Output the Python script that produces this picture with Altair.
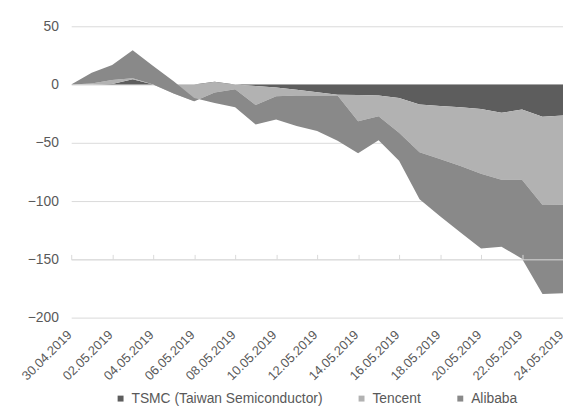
import altair as alt
import pandas as pd

dates = ["30.04.2019", "01.05.2019", "02.05.2019", "03.05.2019", "04.05.2019",
         "05.05.2019", "06.05.2019", "07.05.2019", "08.05.2019", "09.05.2019",
         "10.05.2019", "11.05.2019", "12.05.2019", "13.05.2019", "14.05.2019",
         "15.05.2019", "16.05.2019", "17.05.2019", "18.05.2019", "19.05.2019",
         "20.05.2019", "21.05.2019", "22.05.2019", "23.05.2019", "24.05.2019"]

tsmc = [0, 0, 0.5, 4.5, 0, 0, 0, 2.5, 0, -1.2, -2.5, -4.5, -6.5, -8.7, -9,
        -9.3, -11.6, -17.2, -18.4, -19.5, -20.9, -24.3, -21.5, -27.7, -26.6]
tencent = [0, 1, 3.5, 0.8, 0, -7.6, -14.4, -9.3, -4, -16.3, -7.5, -5, -3, -0.8,
           -22.4, -17.8, -29.7, -41, -45.4, -50.5, -55.7, -57.3, -60.3, -75.7, -76.6]
alibaba = [0, 9.2, 12.7, 24.1, 16, 10.4, 2.9, -9, -15.5, -16.7, -20, -26.1, -30.3,
           -38.8, -27.6, -20.6, -24, -40.3, -49.2, -57, -64.1, -57.6, -67.6, -76.3, -75.8]

series_names = ["TSMC (Taiwan Semiconductor)", "Tencent", "Alibaba"]
colors = ["#5d5d5d", "#b2b2b2", "#898989"]
y_ticks = [50, 0, -50, -100, -150, -200]
x_tick_idx = list(range(0, len(dates), 2))

# Excel-style stacked area: each series fills between the running totals
rows = []
for i, d in enumerate(dates):
    c1 = tsmc[i]
    c2 = c1 + tencent[i]
    c3 = c2 + alibaba[i]
    rows.append(dict(idx=i, date=d, series=series_names[0], lo=0, hi=c1))
    rows.append(dict(idx=i, date=d, series=series_names[1], lo=c1, hi=c2))
    rows.append(dict(idx=i, date=d, series=series_names[2], lo=c2, hi=c3))
df = pd.DataFrame(rows)

W, H = 498, 295
FONT = "Liberation Sans"
TXT = "#595959"
GRID = "#d9d9d9"

label_expr = "[" + ",".join("'%s'" % d for d in dates) + "][datum.value]"

xscale = alt.Scale(domain=[0, len(dates) - 1], nice=False, zero=False)
yscale = alt.Scale(domain=[-200, 50], nice=False, zero=False)

yaxis = alt.Axis(values=y_ticks, grid=True, gridColor=GRID, gridWidth=1,
                 domain=False, ticks=False, tickSize=0, labelPadding=13,
                 labelColor=TXT, labelFontSize=14, labelFont=FONT, title=None)

label_axis = alt.Axis(values=x_tick_idx, labelExpr=label_expr, labelAngle=-45,
                      labelAlign="right", labelBaseline="middle", domain=False,
                      ticks=False, tickSize=0, labelPadding=15, labelOffset=-2,
                      grid=False, labelColor=TXT, labelFontSize=13,
                      labelFont=FONT, labelOverlap=False, title=None)

zero_axis = alt.Axis(values=x_tick_idx, labels=False, domain=True,
                     domainColor=GRID, domainWidth=1, ticks=True, tickColor=GRID,
                     tickSize=5, tickWidth=1, grid=False, offset=-0.8 * H,
                     zindex=1, title=None)

color = alt.Color("series:N",
                  scale=alt.Scale(domain=series_names, range=colors),
                  legend=alt.Legend(orient="none", legendX=43, legendY=370,
                                    direction="horizontal", title=None,
                                    symbolType="square", symbolSize=36,
                                    symbolStrokeWidth=0, labelFontSize=14,
                                    labelColor=TXT, labelFont=FONT,
                                    labelLimit=500,
                                    columnPadding=32, labelOffset=4, padding=0))


def layer(name, xaxis):
    return alt.Chart(df).transform_filter(
        alt.datum.series == name
    ).mark_area(opacity=1).encode(
        x=alt.X("idx:Q", scale=xscale, axis=xaxis),
        y=alt.Y("lo:Q", scale=yscale, axis=yaxis),
        y2="hi:Q",
        color=color,
    )


chart = alt.layer(
    layer(series_names[0], label_axis),
    layer(series_names[1], None),
    layer(series_names[2], zero_axis),
).resolve_axis(x="independent").properties(
    width=W, height=H,
    padding={"left": 64, "top": 16, "right": 0, "bottom": 88},
    autosize=alt.AutoSizeParams(type="none"),
    background="white",
).configure_view(strokeWidth=0)

chart.save("out.html", embed_options={"renderer": "svg", "actions": False})
